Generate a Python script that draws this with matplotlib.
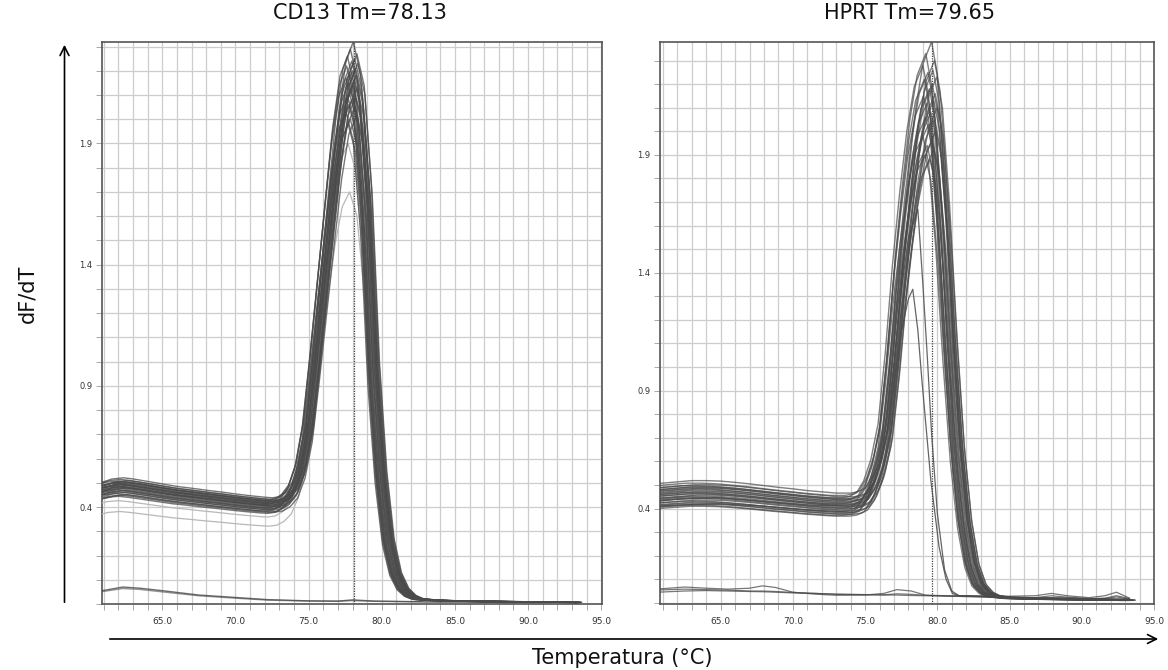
import matplotlib.pyplot as plt
import numpy as np

# typical CD13 well: temperature (°C) and dF/dT, peak 2.25 at 78.0
cd13_temp = [60.5, 61.0, 61.5, 62.3, 63.0, 64.0, 65.0, 66.0, 67.0, 68.0, 69.0, 70.0,
             71.0, 72.0, 72.5, 73.0, 73.5, 74.0, 74.5, 75.0, 75.5, 76.0, 76.5, 77.0,
             77.5, 78.0, 78.5, 79.0, 79.5, 80.0, 80.5, 81.0, 81.5, 82.0, 82.5, 83.5,
             85.0, 87.0, 90.0, 93.3]
cd13_dfdt = [0.485, 0.49, 0.5, 0.505, 0.5, 0.49, 0.48, 0.47, 0.463, 0.455, 0.448, 0.44,
             0.433, 0.427, 0.425, 0.43, 0.45, 0.49, 0.58, 0.75, 1.04, 1.35, 1.66, 1.96,
             2.17, 2.25, 2.12, 1.7, 1.0, 0.55, 0.27, 0.13, 0.065, 0.035, 0.022, 0.016,
             0.013, 0.011, 0.009, 0.007]
# peak height and peak shift of each CD13 well
cd13_peaks = [2.32, 2.29, 2.27, 2.26, 2.25, 2.24, 2.23, 2.22, 2.21, 2.2, 2.19, 2.18, 2.17,
              2.16, 2.15, 2.14, 2.13, 2.12, 2.1, 2.09, 2.08, 2.06, 2.05, 2.03, 2.01, 2.0, 1.98]
cd13_shifts = [0.05, -0.15, 0.3, -0.35, 0.15, -0.05, 0.35, -0.4, 0.2, 0.0, -0.2, 0.25, -0.45,
               0.1, -0.25, 0.05, 0.3, -0.1, -0.35, 0.2, -0.05, -0.25, 0.15, -0.45, 0.25, -0.15, -0.3]
cd13_faint_peaks = [1.9, 1.7]
cd13_faint_shifts = [-0.3, -0.2]
cd13_tm = 78.13

# CD13 no-template controls
cd13_ntc_temp = [60.5, 61.0, 62.3, 63.5, 65.0, 67.5, 70.0, 72.2, 75.0, 77.0, 78.0, 79.5,
                 82.0, 86.0, 90.0, 93.3]
cd13_ntc_a = [0.055, 0.056, 0.07, 0.065, 0.055, 0.037, 0.027, 0.018, 0.013, 0.012, 0.017,
              0.012, 0.01, 0.008, 0.007, 0.005]
cd13_ntc_b = [0.05, 0.052, 0.064, 0.06, 0.05, 0.034, 0.024, 0.016, 0.012, 0.011, 0.014,
              0.011, 0.009, 0.007, 0.006, 0.004]

# typical HPRT well, peak 2.25 at 79.6
hprt_temp = [60.5, 61.0, 62.0, 63.0, 64.0, 65.0, 66.0, 67.0, 68.0, 69.0, 70.0, 71.0, 72.0,
             73.0, 74.0, 74.5, 75.0, 75.5, 76.0, 76.5, 77.0, 77.5, 78.0, 78.5, 79.0, 79.6,
             80.0, 80.5, 81.0, 81.5, 82.0, 82.5, 83.0, 83.5, 84.0, 85.0, 87.0, 90.0, 93.3]
hprt_dfdt = [0.478, 0.48, 0.485, 0.49, 0.49, 0.488, 0.483, 0.477, 0.47, 0.463, 0.457, 0.45,
             0.445, 0.44, 0.44, 0.445, 0.46, 0.51, 0.6, 0.75, 1.05, 1.42, 1.72, 1.98, 2.16,
             2.25, 2.12, 1.7, 1.15, 0.68, 0.36, 0.17, 0.08, 0.045, 0.03, 0.022, 0.018,
             0.015, 0.012]
hprt_peaks = [2.38, 2.33, 2.3, 2.28, 2.26, 2.25, 2.23, 2.22, 2.2, 2.18, 2.16, 2.15, 2.13,
              2.12, 2.1, 2.08, 2.06, 2.05, 2.03, 2.0, 1.98, 1.96, 1.94, 1.92, 1.9, 1.88]
hprt_shifts = [0.0, -0.4, 0.2, -0.6, 0.1, -0.25, 0.35, -0.5, 0.05, -0.15, 0.25, -0.55, 0.15,
               -0.3, 0.4, -0.05, -0.4, 0.2, -0.2, 0.3, -0.6, 0.05, -0.3, 0.15, -0.45, -0.1]
hprt_tm = 79.65

# two HPRT wells with an early, lower peak
hprt_out1_temp = [60.5, 62, 65, 68, 71, 74, 75, 76, 76.5, 77, 77.5, 78, 78.65, 79.0, 79.3,
                  79.6, 80.0, 80.5, 81.0, 81.5, 84, 88, 93.3]
hprt_out1_dfdt = [0.43, 0.44, 0.445, 0.43, 0.415, 0.41, 0.44, 0.6, 0.76, 1.02, 1.32, 1.55,
                  1.67, 1.35, 1.05, 0.72, 0.38, 0.14, 0.05, 0.03, 0.025, 0.02, 0.015]
hprt_out2_temp = [60.5, 62, 65, 68, 71, 74, 75, 76, 76.5, 77, 77.5, 78.0, 78.3, 78.65, 78.93,
                  79.55, 80.12, 80.6, 81.04, 81.5, 84, 88, 93.3]
hprt_out2_dfdt = [0.41, 0.415, 0.42, 0.41, 0.395, 0.385, 0.42, 0.58, 0.72, 0.93, 1.15, 1.29,
                  1.33, 1.157, 0.945, 0.52, 0.237, 0.1, 0.04, 0.03, 0.025, 0.02, 0.015]

# HPRT no-template controls
hprt_ntc_temp = [60.5, 61, 62.5, 64, 65.5, 67, 67.9, 68.8, 70, 71.5, 73, 75, 76.3, 77.2, 78.2,
                 79.2, 81, 83, 85, 86.8, 87.9, 89, 90.5, 91.6, 92.4, 93.3]
hprt_ntc_a = [0.06, 0.06, 0.067, 0.062, 0.058, 0.062, 0.072, 0.065, 0.045, 0.037, 0.032, 0.033,
              0.04, 0.056, 0.05, 0.032, 0.03, 0.03, 0.028, 0.03, 0.04, 0.03, 0.022, 0.03,
              0.045, 0.02]
hprt_ntc_b = [0.055, 0.055, 0.058, 0.056, 0.054, 0.05, 0.05, 0.048, 0.044, 0.04, 0.036, 0.034,
              0.034, 0.038, 0.036, 0.032, 0.028, 0.026, 0.024, 0.022, 0.03, 0.024, 0.018,
              0.02, 0.03, 0.018]
hprt_ntc_c = [0.045, 0.046, 0.05, 0.052, 0.05, 0.048, 0.047, 0.045, 0.042, 0.04, 0.037, 0.035,
              0.033, 0.033, 0.031, 0.03, 0.028, 0.025, 0.022, 0.02, 0.022, 0.02, 0.016, 0.018,
              0.025, 0.015]

x_ticks = [65.0, 70.0, 75.0, 80.0, 85.0, 90.0, 95.0]
y_ticks = [0.4, 0.9, 1.4, 1.9]

DARK = "#4a4a4a"
FAINT = "#b8b8b8"

fig = plt.figure(figsize=(11.68, 6.70), dpi=100)
W, H = 1168, 670
ax_l = fig.add_axes([102 / W, 1 - 604 / H, 500 / W, 562.3 / H])
ax_r = fig.add_axes([660 / W, 1 - 604 / H, 494 / W, 562.3 / H])


def well_curves(ax, temp, dfdt, peaks, shifts, color, lw, alpha):
    temp = np.asarray(temp)
    dfdt = np.asarray(dfdt)
    ref = dfdt.max()
    for p, s in zip(peaks, shifts):
        ax.plot(temp + s, dfdt * p / ref, color=color, lw=lw, alpha=alpha, zorder=3)


def style_axes(ax, xlim, ylim, tm):
    ax.set_xlim(*xlim)
    ax.set_ylim(*ylim)
    ax.set_xticks(x_ticks)
    ax.set_xticklabels([f"{t:.1f}" for t in x_ticks])
    ax.set_xticks(np.arange(61, 96, 1), minor=True)
    ax.set_yticks(y_ticks)
    ax.set_yticklabels([f"{t:.1f}" for t in y_ticks])
    ax.set_yticks(np.arange(0.0, 2.4, 0.1), minor=True)
    ax.grid(which="both", color="#cdcdcd", lw=0.9, zorder=0)
    ax.set_axisbelow(True)
    ax.tick_params(which="both", direction="out", length=4, width=0.6, color="#9a9a9a")
    ax.tick_params(axis="x", labelsize=6.5, pad=5, labelcolor="#333333")
    ax.tick_params(axis="y", labelsize=6, pad=3, labelcolor="#333333")
    for sp in ax.spines.values():
        sp.set_color("#555555")
        sp.set_linewidth(1.2)
    ax.axvline(tm, color="#444444", ls=(0, (1, 1)), lw=0.9, zorder=4)


# CD13 panel
ax_l.plot(cd13_ntc_temp, cd13_ntc_a, color=DARK, lw=1.0, alpha=0.8, zorder=3)
ax_l.plot(cd13_ntc_temp, cd13_ntc_b, color=DARK, lw=1.0, alpha=0.6, zorder=3)
well_curves(ax_l, cd13_temp, cd13_dfdt, cd13_faint_peaks, cd13_faint_shifts, FAINT, 0.9, 1.0)
well_curves(ax_l, cd13_temp, cd13_dfdt, cd13_peaks, cd13_shifts, DARK, 1.0, 0.75)
style_axes(ax_l, (60.88, 95.05), (0.0, 2.32), cd13_tm)

# HPRT panel
for ntc in (hprt_ntc_a, hprt_ntc_b, hprt_ntc_c):
    ax_r.plot(hprt_ntc_temp, ntc, color=DARK, lw=0.9, alpha=0.75, zorder=3)
well_curves(ax_r, hprt_temp, hprt_dfdt, hprt_peaks, hprt_shifts, DARK, 1.0, 0.7)
ax_r.plot(hprt_out1_temp, hprt_out1_dfdt, color=DARK, lw=0.9, alpha=0.85, zorder=3)
ax_r.plot(hprt_out2_temp, hprt_out2_dfdt, color=DARK, lw=0.9, alpha=0.85, zorder=3)
style_axes(ax_r, (60.8, 95.0), (-0.005, 2.38), hprt_tm)

# titles and axis labels
fig.text(360 / W, 1 - 13 / H, f"CD13 Tm={cd13_tm:.2f}", ha="center", va="center",
         fontsize=15, family="DejaVu Sans", color="#111111")
fig.text(910 / W, 1 - 13 / H, f"HPRT Tm={hprt_tm:.2f}", ha="center", va="center",
         fontsize=15, family="DejaVu Sans", color="#111111")
fig.text(27 / W, 1 - 294 / H, "dF/dT", rotation=90, ha="center", va="center",
         fontsize=15, family="DejaVu Sans", color="#111111")
fig.text(622 / W, 1 - 658 / H, "Temperatura (°C)", ha="center", va="center",
         fontsize=15, family="DejaVu Sans", color="#111111")

# long arrows along the axes
arrow = dict(arrowstyle="->", color="black", lw=1.2, mutation_scale=16)
ax_l.annotate("", xy=(64.5 / W, 1 - 42 / H), xytext=(64.5 / W, 1 - 605 / H),
              xycoords="figure fraction", textcoords="figure fraction",
              arrowprops=arrow, annotation_clip=False)
ax_l.annotate("", xy=(1161 / W, 1 - 639 / H), xytext=(107 / W, 1 - 639 / H),
              xycoords="figure fraction", textcoords="figure fraction",
              arrowprops=arrow, annotation_clip=False)

fig.savefig("out.png", dpi=100)
